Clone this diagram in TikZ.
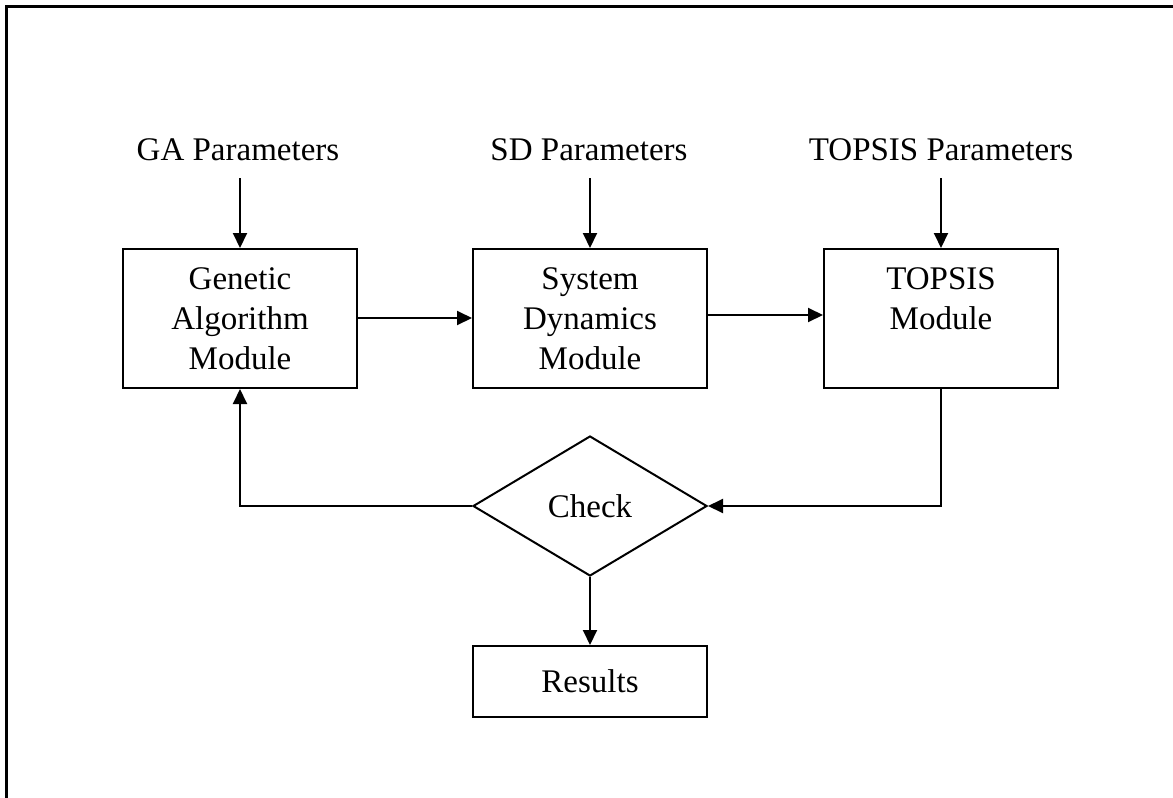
\documentclass[tikz,border=0pt]{standalone}
\usepackage{fontspec}
\setmainfont{Liberation Serif}
\usetikzlibrary{arrows.meta,shapes.geometric}
\begin{document}
\begin{tikzpicture}[x=1pt,y=-1pt,
  font=\fontsize{33}{40}\selectfont,
  line width=2pt,
  box/.style={draw,minimum width=234pt,minimum height=139pt,align=center,inner sep=0pt},
  label/.style={inner sep=0pt,align=center},
  arr/.style={-{Triangle[length=15pt,width=14pt]}},
  ]
\useasboundingbox (0,0) rectangle (1173,798);
\draw[line width=3pt] (6.5,798) -- (6.5,6.5) -- (1173,6.5);

\node[label] (gap) at (238,150) {GA Parameters};
\node[label] (sdp) at (589,150) {SD Parameters};
\node[label] (tpp) at (941,150) {TOPSIS Parameters};

\coordinate (gas) at (240,178);
\coordinate (sds) at (590,178);
\coordinate (tps) at (941,178);

\node[box] (ga) at (240,318.5) {Genetic\\Algorithm\\Module};
\node[box] (sd) at (590,318.5) {System\\Dynamics\\Module};
\node[box] (tp) at (941,318.5) {TOPSIS\\Module\\\mbox{}};

\node[draw,shape=diamond,minimum width=234pt,minimum height=140pt,inner sep=0pt,aspect=1.67] (ck) at (590,506) {};
\node[label] at (ck.center) {Check};

\node[draw,minimum width=234pt,minimum height=71pt,inner sep=0pt] (res) at (590,681.5) {Results};

\draw[arr] (gas) -- (ga.north);
\draw[arr] (sds) -- (sd.north);
\draw[arr] (tps) -- (tp.north);
\draw[arr] (ga.east |- 0,318) -- (sd.west |- 0,318);
\draw[arr] (sd.east |- 0,315) -- (tp.west |- 0,315);
\draw[arr] (tp.south) |- (ck.east);
\draw[arr] (ck.west) -| (ga.south);
\draw[arr] (ck.south) -- (res.north);
\end{tikzpicture}
\end{document}
